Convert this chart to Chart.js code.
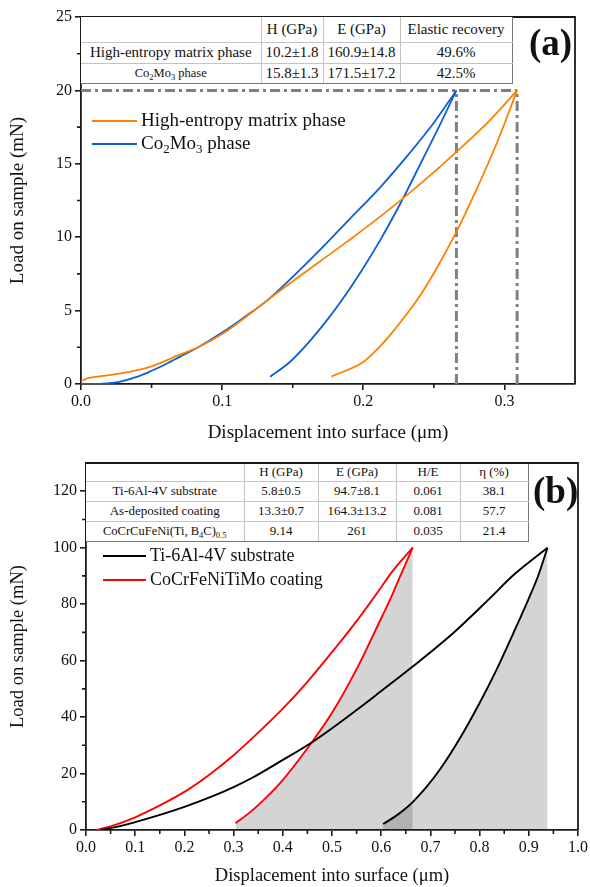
<!DOCTYPE html>
<html><head><meta charset="utf-8">
<script src="https://cdn.jsdelivr.net/npm/chart.js@4.4.1/dist/chart.umd.min.js"></script>
<style>
body{margin:0;width:590px;height:887px;position:relative;background:#fff;overflow:hidden;font-family:"Liberation Serif","Times New Roman",serif;color:#111;}
.wrap{position:absolute;left:0;width:590px;}
#wa{top:0;height:450px;}
#wb{top:447px;height:440px;}
table{position:absolute;border-collapse:collapse;table-layout:fixed;background:#fff;}
td{border:1px solid #c4c4c4;text-align:center;padding:0;white-space:nowrap;overflow:hidden;}
#ta{left:81px;top:17px;width:431px;font-size:15px;}
#tb{left:86px;top:464px;width:442px;font-size:13px;}
table tr td:first-child{border-left:none;}
table tr:first-child td{border-top:none;}
table tr:last-child td{border-bottom:1px solid #777;}
table tr td:last-child{border-right:1px solid #777;}
sub{font-size:68%;vertical-align:-0.3em;line-height:0;}
.panel{position:absolute;font-weight:bold;font-size:37px;line-height:40px;}
.leg{position:absolute;font-size:19px;line-height:22px;white-space:nowrap;}
.leg i{display:inline-block;vertical-align:middle;height:2px;margin-right:4px;position:relative;top:-1px;}
</style>
</head><body>
<div class="wrap" id="wa"><canvas id="ca"></canvas></div>
<div class="wrap" id="wb"><canvas id="cb"></canvas></div>

<table id="ta">
<colgroup><col style="width:180px"><col style="width:62px"><col style="width:77px"><col style="width:112px"></colgroup>
<tr style="height:25px"><td></td><td>H (GPa)</td><td>E (GPa)</td><td>Elastic recovery</td></tr>
<tr style="height:21px"><td>High-entropy matrix phase</td><td>10.2±1.8</td><td>160.9±14.8</td><td>49.6%</td></tr>
<tr style="height:20px"><td style="font-size:12.5px">Co<sub>2</sub>Mo<sub>3</sub> phase</td><td>15.8±1.3</td><td>171.5±17.2</td><td>42.5%</td></tr>
</table>

<table id="tb">
<colgroup><col style="width:158px"><col style="width:74px"><col style="width:78px"><col style="width:64px"><col style="width:68px"></colgroup>
<tr style="height:17px"><td></td><td>H (GPa)</td><td>E (GPa)</td><td>H/E</td><td>η (%)</td></tr>
<tr style="height:20px"><td>Ti-6Al-4V substrate</td><td>5.8±0.5</td><td>94.7±8.1</td><td>0.061</td><td>38.1</td></tr>
<tr style="height:20px"><td>As-deposited coating</td><td>13.3±0.7</td><td>164.3±13.2</td><td>0.081</td><td>57.7</td></tr>
<tr style="height:20px"><td style="font-size:12.5px">CoCrCuFeNi(Ti, B<sub>4</sub>C)<sub>0.5</sub></td><td>9.14</td><td>261</td><td>0.035</td><td>21.4</td></tr>
</table>

<div class="panel" style="left:529px;top:23px">(a)</div>
<div class="panel" style="left:533px;top:471px">(b)</div>

<div class="leg" style="left:92px;top:109px"><i style="width:45px;background:#FF8000"></i>High-entropy matrix phase</div>
<div class="leg" style="left:92px;top:132px"><i style="width:45px;background:#0A5FD6"></i>Co<sub>2</sub>Mo<sub>3</sub> phase</div>
<div class="leg" style="left:103px;top:544px;font-size:18px"><i style="width:43px;background:#000"></i>Ti-6Al-4V substrate</div>
<div class="leg" style="left:103px;top:568px;font-size:18px"><i style="width:43px;background:#FF0000"></i>CoCrFeNiTiMo coating</div>

<script>
// ---------- Panel (a) data ----------
const aHemLoadX   = [0, 0.005, 0.02, 0.04, 0.05, 0.07, 0.083, 0.1, 0.12, 0.132, 0.15, 0.17, 0.19, 0.212, 0.24, 0.267, 0.29, 0.309];
const aHemLoadY   = [0.2, 0.4, 0.6, 0.95, 1.2, 2.0, 2.5, 3.4, 4.8, 5.7, 7.0, 8.4, 9.8, 11.4, 13.6, 15.9, 18.0, 20];
const aHemUnloadX = [0.1773, 0.2, 0.2093, 0.22, 0.2307, 0.2387, 0.246, 0.2527, 0.2667, 0.28, 0.295, 0.309];
const aHemUnloadY = [0.5, 1.5, 2.3, 3.45, 4.75, 5.8, 6.9, 8.0, 10.5, 13.2, 16.5, 20];
const aCoLoadX    = [0, 0.015, 0.027, 0.04, 0.05, 0.06, 0.07, 0.083, 0.1, 0.115, 0.132, 0.15, 0.17, 0.19, 0.212, 0.23, 0.25, 0.266];
const aCoLoadY    = [0, 0.03, 0.15, 0.5, 0.9, 1.35, 1.85, 2.5, 3.5, 4.5, 5.7, 7.3, 9.2, 11.2, 13.4, 15.4, 17.8, 20];
const aCoUnloadX  = [0.134, 0.148, 0.161, 0.1747, 0.184, 0.198, 0.212, 0.2274, 0.24, 0.253, 0.266];
const aCoUnloadY  = [0.5, 1.5, 2.8, 4.4, 5.6, 7.6, 9.8, 12.5, 14.9, 17.4, 20];
const aPeakLoad   = 20;
const aPeakDepths = [0.266, 0.309];
const aXTicks = [0, 0.1, 0.2, 0.3];
const aYTicks = [0, 5, 10, 15, 20, 25];

// ---------- Panel (b) data ----------
const bTiLoadX    = [0.03, 0.06, 0.1, 0.14, 0.2, 0.255, 0.3, 0.338, 0.394, 0.4587, 0.55, 0.6, 0.664, 0.746, 0.818, 0.87, 0.938];
const bTiLoadY    = [0, 1.0, 2.8, 4.8, 8.2, 11.8, 15.2, 18.5, 24.2, 31, 42.5, 49.2, 57.9, 69.7, 81.6, 90.5, 100];
const bTiUnloadX  = [0.604, 0.63, 0.652, 0.664, 0.69, 0.72, 0.76, 0.8, 0.835, 0.868, 0.899, 0.92, 0.938];
const bTiUnloadY  = [2.1, 5.0, 8.0, 9.9, 14.8, 21.6, 32.5, 45, 57, 69.5, 81.6, 90.5, 100];
const bCoLoadX    = [0.02, 0.05, 0.1, 0.15, 0.2, 0.25, 0.3, 0.35, 0.4, 0.45, 0.5, 0.55, 0.6, 0.62, 0.664];
const bCoLoadY    = [0, 1.3, 4.5, 8.7, 13.5, 19.5, 26.5, 34.5, 43, 52.5, 63, 74, 86, 91, 100];
const bCoUnloadX  = [0.304, 0.33, 0.35, 0.394, 0.4587, 0.5, 0.55, 0.6, 0.618, 0.64, 0.664];
const bCoUnloadY  = [2.4, 5.8, 8.8, 16.5, 31, 41.5, 57, 75, 81.6, 90.5, 100];
const bXTicks = [0, 0.1, 0.2, 0.3, 0.4, 0.5, 0.6, 0.7, 0.8, 0.9, 1.0];
const bYTicks = [0, 20, 40, 60, 80, 100, 120];

const zip = (xs, ys) => xs.map((x, i) => ({x, y: ys[i]}));
const mids = t => t.slice(0, -1).map((v, i) => (v + t[i + 1]) / 2);

const AXIS = '#1a1a1a';
const FONT = 'Liberation Serif';

const framePlugin = {
  id: 'frameMinor',
  afterDraw(chart, args, o) {
    const ctx = chart.ctx, a = chart.chartArea;
    const xs = chart.scales.x, ys = chart.scales.y;
    ctx.save();
    ctx.strokeStyle = AXIS;
    ctx.lineWidth = 1.6;
    ctx.beginPath();
    o.minorX.forEach(v => { const p = xs.getPixelForValue(v); ctx.moveTo(p, a.bottom); ctx.lineTo(p, a.bottom + 4); });
    o.minorY.forEach(v => { const p = ys.getPixelForValue(v); ctx.moveTo(a.left, p); ctx.lineTo(a.left - 4, p); });
    ctx.stroke();
    ctx.lineWidth = 1.8;
    ctx.beginPath();
    ctx.moveTo(a.left, a.top); ctx.lineTo(a.right, a.top); ctx.lineTo(a.right, a.bottom);
    ctx.stroke();
    ctx.restore();
  }
};

function line(data, color, w, extra) {
  return Object.assign({data, borderColor: color, backgroundColor: color, borderWidth: w,
    showLine: true, pointRadius: 0, cubicInterpolationMode: 'monotone', fill: false}, extra || {});
}

function makeChart(id, cfg) {
  return new Chart(document.getElementById(id), {
    type: 'scatter',
    data: {datasets: cfg.datasets},
    plugins: [framePlugin],
    options: {
      responsive: true, maintainAspectRatio: false, animation: false,
      layout: {padding: cfg.padding},
      plugins: {legend: {display: false}, tooltip: {enabled: false}, frameMinor: {minorX: cfg.minorX, minorY: cfg.minorY}},
      scales: {
        x: {
          type: 'linear', min: cfg.xMin, max: cfg.xMax,
          afterBuildTicks: s => { s.ticks = cfg.xTicks.map(v => ({value: v})); },
          afterFit: s => { s.height = cfg.xHeight; },
          grid: {drawOnChartArea: false, drawTicks: true, tickLength: 6, color: AXIS, lineWidth: 1.6},
          border: {display: true, color: AXIS, width: 1.8},
          ticks: {color: '#111', font: {family: FONT, size: 16}, padding: 2, maxRotation: 0, callback: v => Number(v).toFixed(1)},
          title: {display: true, text: 'Displacement into surface (μm)', color: '#111', font: {family: FONT, size: cfg.titleSize}, padding: {top: 0, bottom: 0}}
        },
        y: {
          type: 'linear', min: 0, max: cfg.yMax,
          afterBuildTicks: s => { s.ticks = cfg.yTicks.map(v => ({value: v})); },
          afterFit: s => { s.width = cfg.yWidth; },
          grid: {drawOnChartArea: false, drawTicks: true, tickLength: 6, color: AXIS, lineWidth: 1.6},
          border: {display: true, color: AXIS, width: 1.8},
          ticks: {color: '#111', font: {family: FONT, size: 16}, padding: 3},
          title: {display: true, text: 'Load on sample (mN)', color: '#111', font: {family: FONT, size: cfg.titleSize}, padding: {top: 7, bottom: 0}}
        }
      }
    }
  });
}

const dashStyle = {borderDash: [10, 4, 3, 4], cubicInterpolationMode: 'default', tension: 0, borderCapStyle: 'butt'};

makeChart('ca', {
  padding: {left: 0, right: 15, top: 17, bottom: 6},
  xMin: 0, xMax: 0.35, yMax: 25, xTicks: aXTicks, yTicks: aYTicks,
  minorX: mids(aXTicks), minorY: mids(aYTicks),
  xHeight: 60, yWidth: 81, titleSize: 19,
  datasets: [
    line(zip(aHemLoadX, aHemLoadY), '#FF8000', 1.8),
    line(zip(aHemUnloadX, aHemUnloadY), '#FF8000', 1.8),
    line(zip(aCoLoadX, aCoLoadY), '#0A5FD6', 1.8),
    line(zip(aCoUnloadX, aCoUnloadY), '#0A5FD6', 1.8),
    line([{x: 0, y: aPeakLoad}, {x: aPeakDepths[1], y: aPeakLoad}], '#808080', 3, dashStyle),
    line([{x: aPeakDepths[0], y: 0}, {x: aPeakDepths[0], y: aPeakLoad}], '#808080', 3, dashStyle),
    line([{x: aPeakDepths[1], y: 0}, {x: aPeakDepths[1], y: aPeakLoad}], '#808080', 3, dashStyle)
  ]
});

const shade = 'rgba(40,40,40,0.2)';
makeChart('cb', {
  padding: {left: 0, right: 12, top: 16, bottom: 0},
  xMin: 0, xMax: 1.0, yMax: 130, xTicks: bXTicks, yTicks: bYTicks,
  minorX: mids(bXTicks), minorY: mids(bYTicks),
  xHeight: 57, yWidth: 86, titleSize: 18.5,
  datasets: [
    line(zip(bTiLoadX, bTiLoadY), '#000000', 1.9),
    line(zip(bCoLoadX, bCoLoadY), '#FF0000', 1.9),
    line(zip(bTiUnloadX, bTiUnloadY), '#000000', 1.9, {fill: 'origin', backgroundColor: shade}),
    line(zip(bCoUnloadX, bCoUnloadY), '#FF0000', 1.9, {fill: 'origin', backgroundColor: shade})
  ]
});
</script>
</body></html>
